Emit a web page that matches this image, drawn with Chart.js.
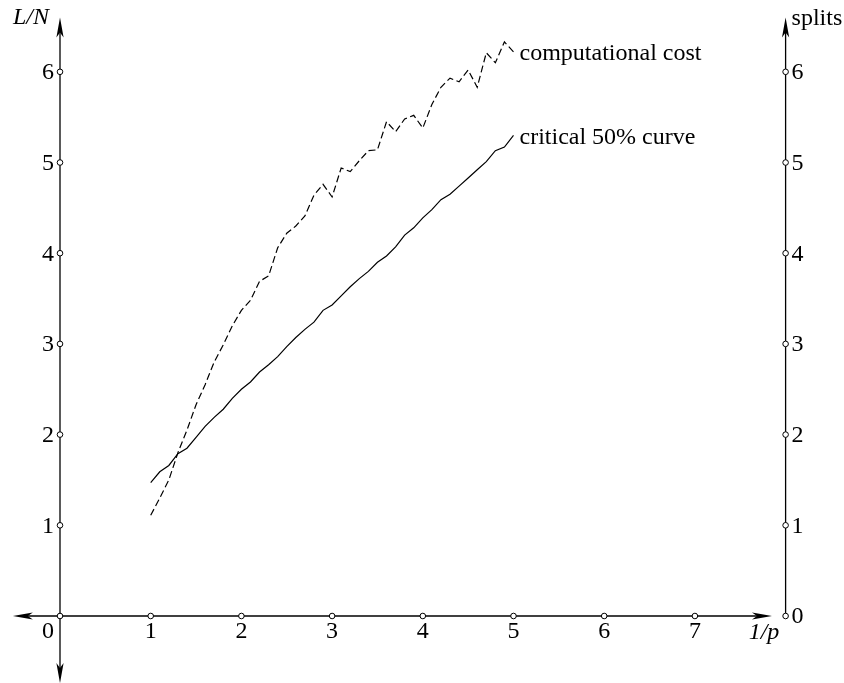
<!DOCTYPE html>
<html>
<head>
<meta charset="utf-8">
<script src="https://cdn.jsdelivr.net/npm/chart.js@4"></script>
<style>
    body { margin: 0; background: #fff; }
</style>
</head>
<body>
<canvas id="myChart" width="844" height="683"></canvas>
<script>

    // 1/p values of the measured points
    const invP = [1.0, 1.1, 1.2, 1.3, 1.4, 1.5, 1.6, 1.7, 1.8, 1.9,
                  2.0, 2.1, 2.2, 2.3, 2.4, 2.5, 2.6, 2.7, 2.8, 2.9,
                  3.0, 3.1, 3.2, 3.3, 3.4, 3.5, 3.6, 3.7, 3.8, 3.9,
                  4.0, 4.1, 4.2, 4.3, 4.4, 4.5, 4.6, 4.7, 4.8, 4.9, 5.0]

    // L/N of the critical 50% curve (solid)
    const critical = [1.47, 1.59, 1.66, 1.79, 1.85, 1.97, 2.09, 2.19, 2.28, 2.40,
                      2.50, 2.58, 2.69, 2.77, 2.86, 2.97, 3.07, 3.16, 3.24, 3.37,
                      3.43, 3.53, 3.63, 3.72, 3.80, 3.90, 3.97, 4.07, 4.20, 4.28,
                      4.39, 4.48, 4.59, 4.65, 4.74, 4.83, 4.92, 5.01, 5.13, 5.17, 5.30]

    // splits, computational cost (dashed)
    const cost = [1.11, 1.30, 1.50, 1.80, 2.05, 2.33, 2.55, 2.80, 2.99, 3.20,
                  3.37, 3.48, 3.69, 3.75, 4.06, 4.22, 4.30, 4.41, 4.64, 4.76,
                  4.62, 4.94, 4.90, 5.02, 5.13, 5.14, 5.45, 5.34, 5.48, 5.52,
                  5.38, 5.64, 5.83, 5.93, 5.89, 6.02, 5.83, 6.21, 6.10, 6.33, 6.22]

    const xTicks = [1, 2, 3, 4, 5, 6, 7]
    const leftTicks = [1, 2, 3, 4, 5, 6]
    const rightTicks = [0, 1, 2, 3, 4, 5, 6]
    const seriesNames = ['critical 50% curve', 'computational cost']

    const FONT = '24px "Liberation Serif", "DejaVu Serif", serif'
    const IFONT = 'italic 24px "Liberation Serif", "DejaVu Serif", serif'

    // arrow head pointing in direction (dx, dy) with tip at (tx, ty)
    function arrowHead(ctx, tx, ty, dx, dy) {
        const L = 20, w = 3.6, notch = 15
        const nx = -dy, ny = dx
        ctx.beginPath()
        ctx.moveTo(tx, ty)
        ctx.lineTo(tx - dx * L + nx * w, ty - dy * L + ny * w)
        ctx.lineTo(tx - dx * notch, ty - dy * notch)
        ctx.lineTo(tx - dx * L - nx * w, ty - dy * L - ny * w)
        ctx.closePath()
        ctx.fill()
    }

    function tickCircle(ctx, cx, cy) {
        ctx.beginPath()
        ctx.arc(cx, cy, 2.8, 0, Math.PI * 2)
        ctx.fillStyle = '#fff'
        ctx.fill()
        ctx.lineWidth = 1
        ctx.stroke()
        ctx.fillStyle = '#000'
    }

    function line(ctx, x1, y1, x2, y2) {
        ctx.beginPath()
        ctx.moveTo(x1, y1)
        ctx.lineTo(x2, y2)
        ctx.stroke()
    }

    const axesPlugin = {
        id: 'axes',
        afterDraw(chart) {
            const ctx = chart.ctx
            const sx = chart.scales.x, sy = chart.scales.y, sy2 = chart.scales.y2
            const x0 = sx.getPixelForValue(0)
            const y0 = sy.getPixelForValue(0)
            const xl = sx.getPixelForValue(-0.52)
            const xr = sx.getPixelForValue(7.85)
            const yb = sy.getPixelForValue(-0.74)
            const yt = sy.getPixelForValue(6.6)
            const xR = sx.getPixelForValue(8)
            const yRt = sy2.getPixelForValue(6.6)

            ctx.save()
            ctx.strokeStyle = '#000'
            ctx.fillStyle = '#000'
            ctx.lineWidth = 1.3

            // horizontal axis
            line(ctx, xl + 10, y0, xr - 10, y0)
            arrowHead(ctx, xl, y0, -1, 0)
            arrowHead(ctx, xr, y0, 1, 0)
            // left vertical axis
            line(ctx, x0, yb - 10, x0, yt + 10)
            arrowHead(ctx, x0, yt, 0, -1)
            arrowHead(ctx, x0, yb, 0, 1)
            // right vertical axis (splits)
            line(ctx, xR, sy2.getPixelForValue(0), xR, yRt + 10)
            arrowHead(ctx, xR, yRt, 0, -1)

            // tick circles
            tickCircle(ctx, x0, y0)
            xTicks.forEach(v => tickCircle(ctx, sx.getPixelForValue(v), y0))
            leftTicks.forEach(v => tickCircle(ctx, x0, sy.getPixelForValue(v)))
            rightTicks.forEach(v => tickCircle(ctx, xR, sy2.getPixelForValue(v)))

            // tick labels
            ctx.font = FONT
            ctx.textBaseline = 'middle'
            ctx.textAlign = 'center'
            xTicks.forEach(v => ctx.fillText(String(v), sx.getPixelForValue(v), y0 + 16))
            ctx.fillText('0', x0 - 12, y0 + 16)
            ctx.textAlign = 'right'
            leftTicks.forEach(v => ctx.fillText(String(v), x0 - 6, sy.getPixelForValue(v) + 1))
            ctx.textAlign = 'left'
            rightTicks.forEach(v => ctx.fillText(String(v), xR + 6, sy2.getPixelForValue(v) + 1))

            // axis titles
            ctx.font = IFONT
            ctx.textAlign = 'center'
            ctx.fillText('L/N', x0 - 29, yt)
            ctx.fillText('1/p', xr - 8, y0 + 17)
            ctx.font = FONT
            ctx.textAlign = 'left'
            ctx.fillText('splits', xR + 6, yRt + 1)

            // curve labels at the last point of each series
            chart.data.datasets.forEach((ds, i) => {
                const pts = chart.getDatasetMeta(i).data
                const p = pts[pts.length - 1]
                ctx.fillText(seriesNames[i], p.x + 6, p.y + 2)
            })
            ctx.restore()
        }
    }

    const data = {
        datasets: [{
            label: seriesNames[0],
            data: invP.map((v, i) => ({ x: v, y: critical[i] })),
            borderColor: '#000',
            borderWidth: 1.2,
            yAxisID: 'y'
        }, {
            label: seriesNames[1],
            data: invP.map((v, i) => ({ x: v, y: cost[i] })),
            borderColor: '#000',
            borderWidth: 1.2,
            borderDash: [7, 3.5],
            yAxisID: 'y2'
        }]
    }

    const config = {
        type: 'line',
        data: data,
        options: {
            responsive: false,
            animation: false,
            layout: { padding: { left: 60, right: 58.4, top: 17.4, bottom: 67 } },
            elements: { point: { radius: 0 }, line: { tension: 0 } },
            plugins: { legend: { display: false }, tooltip: { enabled: false } },
            scales: {
                x: { type: 'linear', min: 0, max: 8, display: false },
                y: { min: 0, max: 6.6, display: false },
                y2: { min: 0, max: 6.6, display: false }
            }
        },
        plugins: [axesPlugin]
    }

    const myChart = new Chart(document.getElementById('myChart'), config)

</script>
</body>
</html>
